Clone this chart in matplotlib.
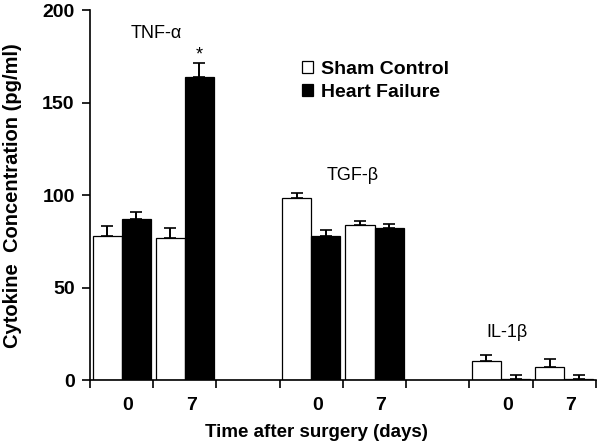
import numpy as np
import matplotlib.pyplot as plt

plt.rcParams['font.family'] = ['Liberation Sans', 'DejaVu Sans']

# slot index of each time point (slots 2 and 5 are left empty between cytokines)
slots = [0, 1, 3, 4, 6, 7]
day_labels = ['0', '7', '0', '7', '0', '7']
sham_vals = [78, 77, 98.5, 84, 10.3, 7.2]
sham_err = [5.5, 5, 2.7, 2, 3.2, 4.1]
hf_vals = [87, 164, 78, 82, 0.8, 0.6]
hf_err = [4, 7.5, 3, 2.2, 1.9, 2.0]
cytokines = ['TNF-α', 'TGF-β', 'IL-1β']
cytokine_pos = [(1.05, 183), (4.15, 106), (6.6, 21)]

fig = plt.figure(figsize=(6, 4.44), dpi=100)
ax = fig.add_axes([0.15, 0.144, 0.843, 0.833])

x = np.array(slots, dtype=float)
w = 0.46
err_kw = dict(capsize=4, elinewidth=1.4, capthick=1.2, ecolor='black')
ax.bar(x + 0.27, sham_vals, w, color='white', edgecolor='black', linewidth=0.9,
       yerr=[np.zeros(len(sham_err)), sham_err], error_kw=err_kw, label='Sham Control')
ax.bar(x + 0.73, hf_vals, w, color='black', edgecolor='black', linewidth=0.9,
       yerr=[np.zeros(len(hf_err)), hf_err], error_kw=err_kw, label='Heart Failure')

ax.set_xlim(0, 8)
ax.set_ylim(0, 200)
ax.set_yticks([0, 50, 100, 150, 200])
ax.set_xticks(np.arange(9))
ax.set_xticklabels([])
ax.set_xticks(x + 0.6, minor=True)
ax.set_xticklabels(day_labels, minor=True)
ax.tick_params(axis='x', which='minor', length=0, pad=12, labelsize=14)
ax.tick_params(axis='x', which='major', direction='out', length=6, width=1.2)
ax.tick_params(axis='y', direction='out', length=6, width=1.2, labelsize=14, pad=5)
for lab in ax.get_yticklabels() + ax.get_xticklabels(minor=True):
    lab.set_fontweight('bold')

for s in ['top', 'right']:
    ax.spines[s].set_visible(False)
for s in ['left', 'bottom']:
    ax.spines[s].set_linewidth(1.2)

for name, (px, py) in zip(cytokines, cytokine_pos):
    ax.text(px, py, name, fontsize=13, ha='center', va='bottom')
ax.text(1.73, hf_vals[1] + hf_err[1] - 0.5, '*', fontsize=13, ha='center', va='bottom')

ax.set_ylabel('Cytokine  Concentration (pg/ml)', fontsize=14.5, fontweight='bold')
ax.yaxis.set_label_coords(-0.135, 0.5)
ax.set_xlabel('Time after surgery (days)', fontsize=13.5, fontweight='bold')
ax.xaxis.set_label_coords(0.448, -0.118)

leg = ax.legend(loc='upper left', bbox_to_anchor=(0.385, 0.91), frameon=False,
                prop={'weight': 'bold', 'size': 14}, handlelength=0.55, handleheight=0.55,
                handletextpad=0.4, labelspacing=0.3)

fig.savefig('out.png', dpi=100)
